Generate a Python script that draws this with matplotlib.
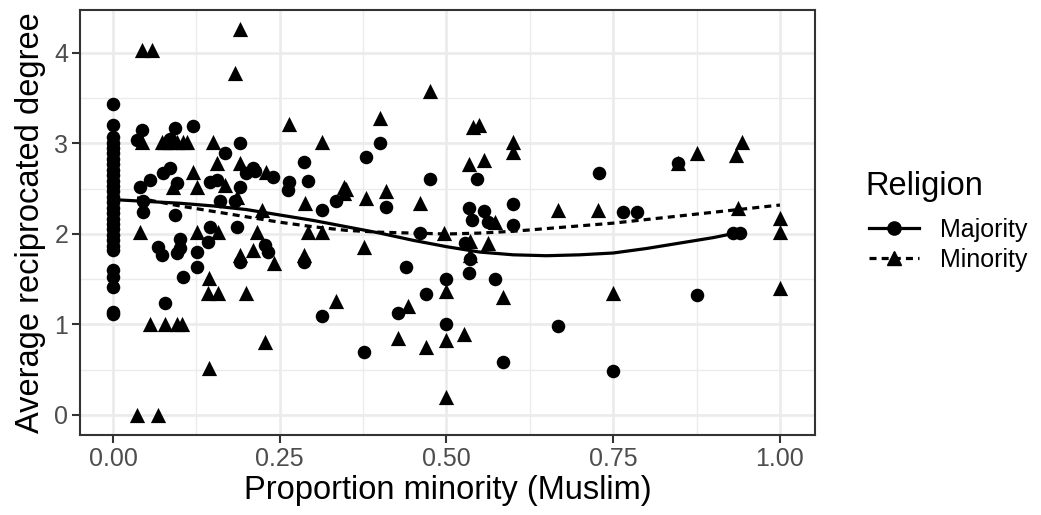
import matplotlib
matplotlib.use("Agg")
import matplotlib.pyplot as plt
from matplotlib.lines import Line2D

plt.rcParams['font.family'] = ['Liberation Sans', 'DejaVu Sans']

# majority (circles)
maj_x0_y = [3.44, 3.20, 3.07, 3.01, 2.95, 2.89, 2.83, 2.77, 2.71, 2.65, 2.59, 2.53,
            2.47, 2.41, 2.35, 2.29, 2.23, 2.17, 2.11, 2.05, 1.99, 1.93, 1.87, 1.82,
            1.60, 1.52, 1.41, 1.14, 1.12]
maj_x = [0.043, 0.036, 0.093, 0.085, 0.12, 0.168, 0.19, 0.085, 0.075, 0.055, 0.04, 0.096,
         0.145, 0.156, 0.19, 0.2, 0.21, 0.16, 0.183, 0.045, 0.045, 0.093, 0.067, 0.073,
         0.1, 0.096, 0.1, 0.126, 0.126, 0.145, 0.142, 0.186, 0.19, 0.105, 0.078,
         0.213, 0.24, 0.264, 0.262, 0.38, 0.40, 0.475, 0.286, 0.292, 0.313, 0.334, 0.41,
         0.228, 0.232, 0.286, 0.46, 0.44, 0.5, 0.47, 0.313, 0.428, 0.5, 0.376,
         0.546, 0.728, 0.60, 0.534, 0.556, 0.765, 0.786, 0.538, 0.562, 0.6, 0.528,
         0.535, 0.534, 0.573, 0.667, 0.585, 0.75, 0.847, 0.93, 0.94, 0.876]
maj_y = [3.15, 3.04, 3.17, 3.05, 3.19, 2.90, 3.00, 2.73, 2.67, 2.60, 2.52, 2.56,
         2.57, 2.60, 2.52, 2.67, 2.73, 2.37, 2.37, 2.37, 2.24, 2.21, 1.86, 1.77,
         1.95, 1.79, 1.85, 1.80, 1.64, 2.08, 1.91, 2.08, 1.69, 1.52, 1.24,
         2.70, 2.63, 2.57, 2.49, 2.85, 3.00, 2.61, 2.80, 2.59, 2.27, 2.37, 2.30,
         1.88, 1.80, 1.69, 2.01, 1.64, 1.50, 1.34, 1.09, 1.13, 1.00, 0.70,
         2.61, 2.67, 2.33, 2.29, 2.25, 2.24, 2.24, 2.15, 2.13, 2.10, 1.90,
         1.72, 1.57, 1.50, 0.98, 0.59, 0.49, 2.78, 2.01, 2.01, 1.33]
maj_x = [0.0] * len(maj_x0_y) + maj_x
maj_y = maj_x0_y + maj_y

# minority (triangles)
min_x = [0.19, 0.043, 0.058, 0.183, 0.043, 0.073, 0.078, 0.085, 0.096, 0.105, 0.111, 0.15,
         0.156, 0.19, 0.12, 0.126, 0.168, 0.186, 0.09,
         0.04, 0.126, 0.157, 0.19, 0.21, 0.216, 0.144, 0.142, 0.157, 0.2, 0.055, 0.078,
         0.096, 0.103, 0.144, 0.036, 0.067, 0.228,
         0.264, 0.313, 0.40, 0.475, 0.23, 0.288, 0.346, 0.346, 0.38, 0.41, 0.46, 0.223,
         0.241, 0.292, 0.313, 0.286, 0.376, 0.497, 0.5, 0.334, 0.442, 0.5, 0.428, 0.47, 0.5,
         0.54, 0.548, 0.60, 0.60, 0.534, 0.556, 0.667, 0.727, 0.573, 0.535, 0.562, 0.535,
         0.585, 0.75, 0.526, 0.943, 0.934, 0.876, 0.847, 0.937, 1.0, 1.0, 1.0, 0.35]
min_y = [4.27, 4.03, 4.03, 3.78, 3.02, 3.02, 3.02, 3.02, 3.02, 3.02, 3.02, 3.02,
         2.78, 2.78, 2.69, 2.52, 2.54, 2.41, 2.52,
         2.02, 2.02, 2.02, 1.77, 1.82, 2.02, 1.51, 1.35, 1.35, 1.35, 1.00, 1.00,
         1.00, 1.00, 0.52, 0.00, 0.00, 0.81,
         3.22, 3.02, 3.28, 3.58, 2.69, 2.34, 2.52, 2.45, 2.40, 2.47, 2.34, 2.27,
         1.68, 2.02, 2.02, 1.77, 1.86, 2.01, 1.37, 1.26, 1.20, 0.83, 0.85, 0.75, 0.20,
         3.18, 3.20, 3.02, 2.91, 2.77, 2.82, 2.27, 2.27, 2.13, 1.92, 1.90, 1.77,
         1.30, 1.35, 0.90, 3.02, 2.87, 2.89, 2.78, 2.29, 2.18, 2.02, 1.40, 2.50]

# smoothed trend lines
maj_fit_x = [0, 0.05, 0.1, 0.15, 0.2, 0.25, 0.3, 0.35, 0.4, 0.45, 0.5, 0.55, 0.6,
             0.65, 0.7, 0.75, 0.8, 0.85, 0.9, 0.94]
maj_fit_y = [2.38, 2.36, 2.34, 2.31, 2.27, 2.21, 2.15, 2.08, 2.01, 1.93, 1.86, 1.80, 1.77,
             1.76, 1.77, 1.79, 1.84, 1.90, 1.96, 2.02]
min_fit_x = [0.036, 0.1, 0.15, 0.2, 0.25, 0.3, 0.35, 0.4, 0.45, 0.5, 0.55, 0.6, 0.65,
             0.7, 0.75, 0.8, 0.85, 0.9, 0.95, 1.0]
min_fit_y = [2.40, 2.31, 2.25, 2.19, 2.13, 2.08, 2.04, 2.02, 2.01, 2.00, 2.01, 2.03, 2.06,
             2.09, 2.12, 2.16, 2.20, 2.24, 2.28, 2.32]

fig = plt.figure(figsize=(10.41, 5.15), dpi=100)
ax = fig.add_axes([80 / 1041, 80 / 515, 735 / 1041, 425 / 515])

ax.scatter(maj_x, maj_y, marker='o', s=95, color='black', linewidths=0, zorder=3)
ax.scatter(min_x, min_y, marker='^', s=120, color='black', linewidths=0, zorder=3)
ax.plot(maj_fit_x, maj_fit_y, color='black', lw=2.3, zorder=4)
ax.plot(min_fit_x, min_fit_y, color='black', lw=2.3, linestyle=(0, (2.2, 1.6)), zorder=4)

ax.set_xlim(-0.0495, 1.0525)
ax.set_ylim(-0.221, 4.475)
ax.set_xticks([0, 0.25, 0.5, 0.75, 1.0])
ax.set_xticklabels(['0.00', '0.25', '0.50', '0.75', '1.00'])
ax.set_yticks([0, 1, 2, 3, 4])
ax.set_xticks([0.125, 0.375, 0.625, 0.875], minor=True)
ax.set_yticks([0.5, 1.5, 2.5, 3.5], minor=True)
ax.grid(which='major', color='#EBEBEB', lw=1.9, zorder=0)
ax.grid(which='minor', color='#EBEBEB', lw=0.95, zorder=0)
ax.set_axisbelow(True)
for sp in ax.spines.values():
    sp.set_color('#333333')
    sp.set_linewidth(1.5)
ax.tick_params(which='major', length=5.5, width=1.5, color='#333333',
               labelsize=18, labelcolor='#4D4D4D', pad=3)
ax.tick_params(which='minor', length=0)

ax.set_xlabel('Proportion minority (Muslim)', fontsize=23.5, labelpad=3)
ax.set_ylabel('Average reciprocated degree', fontsize=23.5, labelpad=6)

# legend: title as its own text, entries below
fig.text(865 / 1041, 1 - 195 / 515, 'Religion', fontsize=23.5, ha='left', va='baseline')
handles = [
    Line2D([], [], color='black', lw=2.3, marker='o', markersize=9.5),
    Line2D([], [], color='black', lw=2.3, marker='^', markersize=10.5, linestyle=(0, (2.2, 1.6))),
]
leg = fig.legend(handles, ['Majority', 'Minority'],
                 loc='upper left', bbox_to_anchor=(869 / 1041, 1 - 218 / 515),
                 frameon=False, fontsize=18, handlelength=2.0,
                 handletextpad=0.85, labelspacing=0.22, borderpad=0, borderaxespad=0)

fig.savefig('out.png', dpi=100)
